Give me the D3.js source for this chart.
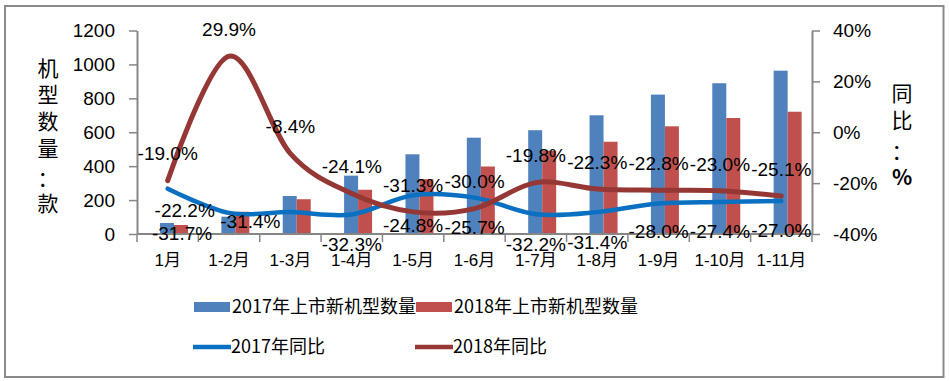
<!DOCTYPE html>
<html><head><meta charset="utf-8">
<script src="https://cdn.jsdelivr.net/npm/d3@7"></script>
<style>
html,body{margin:0;padding:0;background:#fff;}
text{font-family:"Liberation Sans",Arial,"Noto Sans CJK SC",sans-serif;fill:#000;}
.cjk{font-family:"Noto Sans CJK SC",sans-serif;}
</style></head>
<body><svg id="c" width="949" height="381"></svg>
<script>
const categories = ['1月','1-2月','1-3月','1-4月','1-5月','1-6月','1-7月','1-8月','1-9月','1-10月','1-11月'];
const models2017 = [65, 102, 224, 344, 470, 568, 612, 700, 822, 889, 963];
const models2018 = [53, 131, 205, 261, 323, 398, 491, 544, 635, 684, 721];
const yoy2017 = [-22.2, -31.7, -31.4, -32.3, -24.8, -25.7, -32.2, -31.4, -28.0, -27.4, -27.0];
const yoy2018 = [-19.0, 29.9, -8.4, -24.1, -31.3, -30.0, -19.8, -22.3, -22.8, -23.0, -25.1];
const leftTicks = [0, 200, 400, 600, 800, 1000, 1200];
const rightTicks = [-40, -20, 0, 20, 40];
const seriesNames = ['2017年上市新机型数量','2018年上市新机型数量','2017年同比','2018年同比'];
const leftTitle = ['机','型','数','量','：','款'];
const rightTitle = ['同','比','：','%'];

const C_BAR17 = '#4F81BD', C_BAR18 = '#C0504D', C_LN17 = '#0A70C2', C_LN18 = '#953735', C_AX = '#868686';

const svg = d3.select('#c');
// outer frame
svg.append('rect').attr('x',5).attr('y',6).attr('width',938.5).attr('height',371)
  .attr('fill','#fff').attr('stroke','#8a8a8a').attr('stroke-width',2);

const x = d3.scaleBand().domain(categories).range([137, 812]).padding(0);
const yL = d3.scaleLinear().domain([0, 1200]).range([234, 30.5]);
const yR = d3.scaleLinear().domain([-40, 40]).range([234, 30.5]);
const bw = x.bandwidth();

// bars
const g = svg.append('g');
const barW = bw * 0.228, barOff = bw * 0.375;
g.selectAll('.b17').data(categories).join('rect')
  .attr('x', (d)=>x(d)+barOff).attr('width', barW)
  .attr('y', (d,i)=>yL(models2017[i])).attr('height',(d,i)=>yL(0)-yL(models2017[i]))
  .attr('fill', C_BAR17);
g.selectAll('.b18').data(categories).join('rect')
  .attr('x', (d)=>x(d)+barOff+barW).attr('width', barW)
  .attr('y', (d,i)=>yL(models2018[i])).attr('height',(d,i)=>yL(0)-yL(models2018[i]))
  .attr('fill', C_BAR18);

// axes
const axL = d3.axisLeft(yL).tickValues(leftTicks).tickSize(8).tickSizeOuter(0).tickPadding(14).tickFormat(d3.format('d'));
const gL = svg.append('g').attr('transform','translate(137,0)').call(axL);
const axR = d3.axisRight(yR).tickValues(rightTicks).tickSize(8).tickSizeOuter(0).tickPadding(13).tickFormat(d=>d+'%');
const gR = svg.append('g').attr('transform','translate(812,0)').call(axR);
[gL,gR].forEach(a=>{
  a.select('.domain').attr('stroke',C_AX).attr('stroke-width',2);
  a.selectAll('.tick line').attr('stroke',C_AX).attr('stroke-width',1.5);
  a.selectAll('.tick text').style('font-size','19px').attr('fill','#000');
});
// category axis
const gB = svg.append('g');
gB.append('line').attr('x1',137).attr('x2',812).attr('y1',yL(0)).attr('y2',yL(0)).attr('stroke',C_AX).attr('stroke-width',2);
const bounds = categories.map(c=>x(c)).concat([x.range()[1]]);
gB.selectAll('.bt').data(bounds).join('line')
  .attr('x1',d=>d).attr('x2',d=>d).attr('y1',yL(0)).attr('y2',yL(0)+8)
  .attr('stroke',C_AX).attr('stroke-width',1.5);
gB.selectAll('.bl').data(categories).join('text')
  .attr('x',d=>x(d)+bw/2).attr('y',266).attr('text-anchor','middle')
  .style('font-size','17px').text(d=>d);

// lines
const lineGen = (arr)=>d3.line().x((d,i)=>x(categories[i])+bw/2).y(d=>yR(d)).curve(d3.curveCardinal.tension(0))(arr);
svg.append('path').attr('d',lineGen(yoy2017)).attr('fill','none').attr('stroke',C_LN17).attr('stroke-width',4.5).attr('stroke-linecap','round');
svg.append('path').attr('d',lineGen(yoy2018)).attr('fill','none').attr('stroke',C_LN18).attr('stroke-width',5).attr('stroke-linecap','round');

// data labels
const fmt = v => v.toFixed(1)+'%';
const lab17dx = [17, -47, -40, 0,0,0,0,0,0,0,0];
const lab17dy = [21, 20, 9, 30,30,30,30,30,28,29,29];
svg.append('g').selectAll('text').data(yoy2017).join('text')
  .attr('x',(d,i)=>x(categories[i])+bw/2+lab17dx[i]).attr('y',(d,i)=>yR(d)+lab17dy[i])
  .attr('text-anchor','middle').attr('dy','0.36em').style('font-size','19px').text(fmt);
svg.append('g').selectAll('text').data(yoy2018).join('text')
  .attr('x',(d,i)=>x(categories[i])+bw/2).attr('y',(d,i)=>yR(d)-27)
  .attr('text-anchor','middle').attr('dy','0.36em').style('font-size','19px').text(fmt);

// axis titles
svg.append('g').selectAll('text').data(leftTitle).join('text').attr('class','cjk')
  .attr('x',48).attr('y',(d,i)=>[68,94,121,148,178,203][i]).attr('dy','0.36em')
  .attr('text-anchor','middle').style('font-size','21px').text(d=>d);
svg.append('g').selectAll('text').data(rightTitle).join('text').attr('class','cjk')
  .attr('x',902).attr('y',(d,i)=>[93,120,151,177][i]).attr('dy','0.36em')
  .attr('text-anchor','middle').style('font-size','21px').style('font-weight',(d,i)=>i==3?'bold':'normal').text(d=>d);

// legend
const legItems = [
  {n:seriesNames[0], type:'bar', c:C_BAR17, x:194, y:307},
  {n:seriesNames[1], type:'bar', c:C_BAR18, x:416, y:307},
  {n:seriesNames[2], type:'line', c:C_LN17, x:193, y:347},
  {n:seriesNames[3], type:'line', c:C_LN18, x:415, y:347}
];
const lg = svg.append('g');
legItems.forEach(it=>{
  if(it.type==='bar') lg.append('rect').attr('x',it.x).attr('y',it.y-5).attr('width',36).attr('height',10).attr('fill',it.c);
  else lg.append('line').attr('x1',it.x).attr('x2',it.x+38).attr('y1',it.y).attr('y2',it.y).attr('stroke',it.c).attr('stroke-width',4.5);
  lg.append('text').attr('class','cjk').attr('x',it.x+38).attr('y',it.y).attr('dy','0.36em').style('font-size','18px').text(it.n);
});
</script></body></html>
